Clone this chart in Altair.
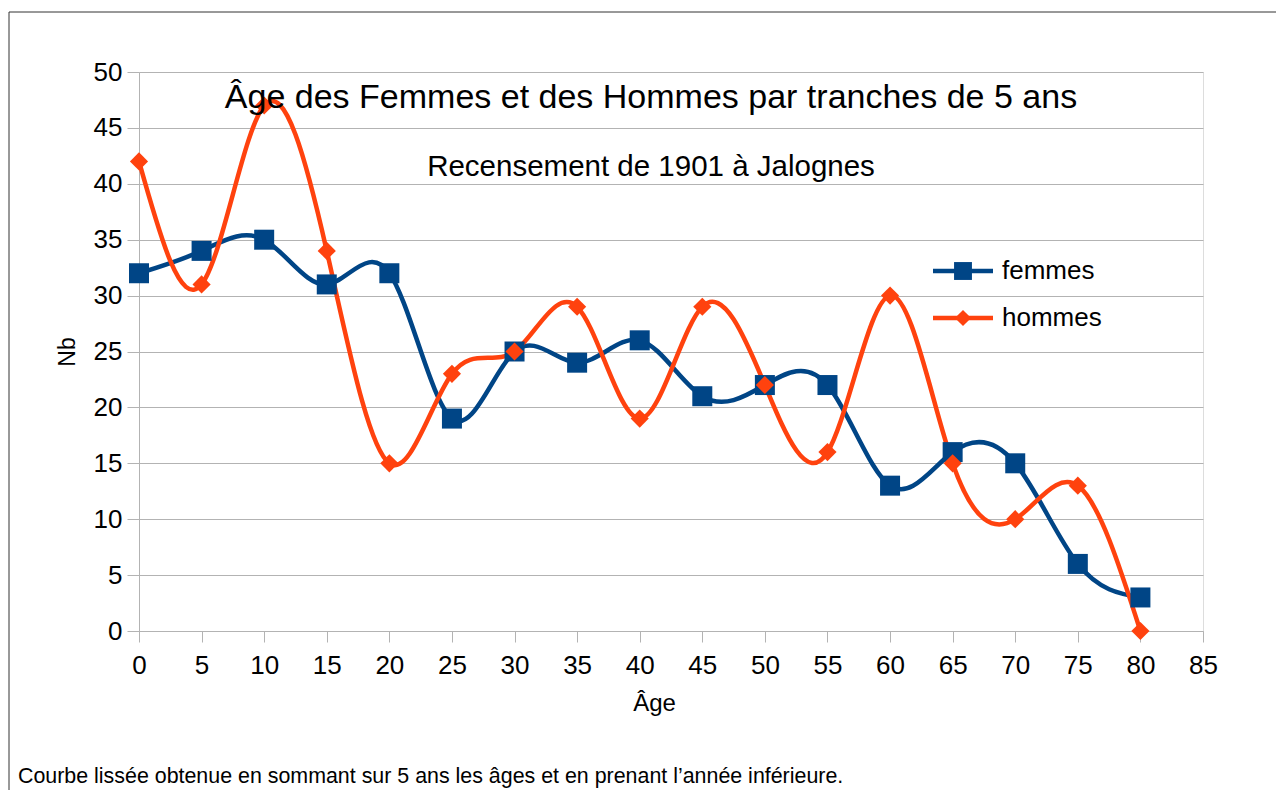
import altair as alt
import pandas as pd

ages = [0, 5, 10, 15, 20, 25, 30, 35, 40, 45, 50, 55, 60, 65, 70, 75, 80]
femmes = [32, 34, 35, 31, 32, 19, 25, 24, 26, 21, 22, 22, 13, 16, 15, 6, 3]
hommes = [42, 31, 47, 34, 15, 23, 25, 29, 19, 29, 22, 16, 30, 15, 10, 13, 0]
series_names = ["femmes", "hommes"]
series_colors = ["#004586", "#ff420e"]
series_shapes = ["square", "diamond"]
series_sizes = [400, 330]
x_ticks = list(range(0, 90, 5))
y_ticks = list(range(0, 55, 5))
title_text = "Âge des Femmes et des Hommes par tranches de 5 ans"
subtitle_text = "Recensement de 1901 à Jalognes"
note_text = "Courbe lissée obtenue en sommant sur 5 ans les âges et en prenant l’année inférieure."
x_title = "Âge"
y_title = "Nb"

FONT = "Liberation Sans"
GRID = "#b3b3b3"

rows = []
for a, f, h in zip(ages, femmes, hommes):
    rows.append({"age": a, "nb": f, "serie": "femmes"})
    rows.append({"age": a, "nb": h, "serie": "hommes"})
df = pd.DataFrame(rows)

W, H = 1064, 559

x_enc = alt.X(
    "age:Q",
    scale=alt.Scale(domain=[0, 85], nice=False, zero=False),
    axis=alt.Axis(
        values=x_ticks, title=x_title, grid=False, labelFontSize=26, labelPadding=10,
        tickSize=11, tickColor=GRID, domainColor=GRID, labelColor="black",
        titleFontSize=24, titleFontWeight="normal", titleColor="black",
        titleX=515, titleY=72, titleBaseline="middle", titleAlign="center",
        labelFont=FONT, titleFont=FONT, labelFlush=False,
    ),
)
y_enc = alt.Y(
    "nb:Q",
    scale=alt.Scale(domain=[0, 50], nice=False),
    axis=alt.Axis(
        values=y_ticks, title=y_title, grid=True, gridColor=GRID, labelFontSize=26,
        labelPadding=5, tickSize=12, tickColor=GRID, domainColor=GRID, labelColor="black",
        titleFontSize=23, titleFontWeight="normal", titleColor="black",
        titleX=-72, titleY=H / 2, titleAngle=270, titleBaseline="middle", titleAlign="center",
        labelFont=FONT, titleFont=FONT, labelFlush=False,
    ),
)
color_enc = alt.Color("serie:N", scale=alt.Scale(domain=series_names, range=series_colors), legend=None)

lines = alt.Chart(df).mark_line(interpolate="natural", strokeWidth=4.5).encode(
    x=x_enc, y=y_enc, color=color_enc
)
points = alt.Chart(df).mark_point(filled=True, opacity=1).encode(
    x=x_enc, y=y_enc, color=color_enc,
    shape=alt.Shape("serie:N", scale=alt.Scale(domain=series_names, range=series_shapes), legend=None),
    size=alt.Size("serie:N", scale=alt.Scale(domain=series_names, range=series_sizes), legend=None),
)

layers = [lines, points]

# manual legend
for i, name in enumerate(series_names):
    ly = 199 + 47 * i
    d = pd.DataFrame({"serie": [name]})
    layers.append(alt.Chart(d).mark_rule(strokeWidth=4.5, color=series_colors[i]).encode(
        x=alt.value(794), x2=alt.value(854), y=alt.value(ly)))
    layers.append(alt.Chart(d).mark_point(filled=True, opacity=1, shape=series_shapes[i],
                                          size=series_sizes[i] * 0.8, color=series_colors[i]).encode(
        x=alt.value(824), y=alt.value(ly)))
    layers.append(alt.Chart(d).mark_text(align="left", baseline="middle", fontSize=26, font=FONT,
                                         color="black").encode(
        x=alt.value(863), y=alt.value(ly), text="serie:N"))

texts = pd.DataFrame({"t": [title_text]})
layers.append(alt.Chart(texts).mark_text(align="center", baseline="middle", fontSize=34, font=FONT,
                                         color="black").encode(
    x=alt.value(512), y=alt.value(26), text="t:N"))
sub = pd.DataFrame({"t": [subtitle_text]})
layers.append(alt.Chart(sub).mark_text(align="center", baseline="middle", fontSize=29.5, font=FONT,
                                       color="black").encode(
    x=alt.value(512), y=alt.value(95), text="t:N"))
note = pd.DataFrame({"t": [note_text]})
layers.append(alt.Chart(note).mark_text(align="left", baseline="middle", fontSize=21.4, font=FONT,
                                        color="black").encode(
    x=alt.value(-121), y=alt.value(705), text="t:N"))

# outer frame
frame = pd.DataFrame({"k": [0]})
layers.append(alt.Chart(frame).mark_rule(color="#333333", strokeWidth=1).encode(
    x=alt.value(-130), x2=alt.value(1300), y=alt.value(-60)))
layers.append(alt.Chart(frame).mark_rule(color="#333333", strokeWidth=1).encode(
    x=alt.value(-130), y=alt.value(-60), y2=alt.value(900)))

chart = alt.layer(*layers).properties(
    width=W, height=H,
    autosize=alt.AutoSizeParams(type="none"),
    padding={"left": 131, "top": 64, "right": 73, "bottom": 159},
).configure_view(stroke=GRID, strokeWidth=1).configure(background="white")

chart.save("out.html", embed_options={"renderer": "svg", "actions": False})
